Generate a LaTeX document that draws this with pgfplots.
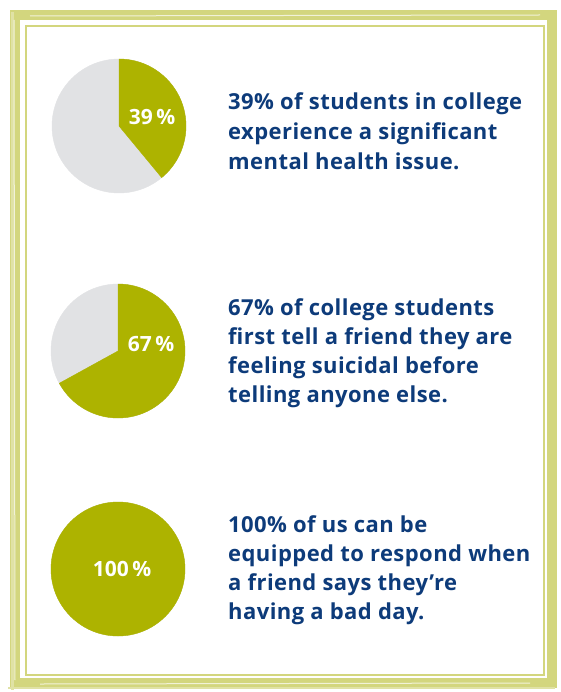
\documentclass[border=0pt]{standalone}
\usepackage{pgfplots}
\pgfplotsset{compat=1.18}
\usepackage{pgfplotstable}
\usepackage{fontspec}
\setmainfont{Open Sans}

\definecolor{piegreen}{HTML}{ADB300}
\definecolor{piegray}{HTML}{E1E2E4}
\definecolor{textblue}{HTML}{0D3B7A}
\definecolor{frame}{HTML}{D3D67E}

% pie centres in pixel coordinates, share in percent, label offset
\pgfplotstableread{
x   y    p    dx  dy
119 126  39   33  9
118 351  67   33  7
118 569  100  4   0
}\pies

\newcommand\blurb{\fontsize{22bp}{29bp}\selectfont\bfseries\addfontfeature{LetterSpace=2}}

\begin{document}
\begin{tikzpicture}
\useasboundingbox (0,0) rectangle (561bp,692bp);
\begin{axis}[
    at={(0,0)}, anchor=south west,
    width=561bp, height=692bp, scale only axis,
    xmin=0, xmax=561, ymin=0, ymax=692, y dir=reverse,
    hide axis, clip=false,
]
    % rough frame
    \draw[frame, line width=10bp] (axis cs:15,15) rectangle (axis cs:552,683);
    \draw[frame, line width=2.5bp] (axis cs:26,26) rectangle (axis cs:544,675);
    \draw[frame!70, line width=3bp] (axis cs:12,12) -- (axis cs:12,690);
    \draw[frame!70, line width=2bp] (axis cs:8,688) -- (axis cs:555,688);
    \draw[white, line width=1bp, opacity=0.7] (axis cs:14,20) -- (axis cs:15,680);
    \draw[white, line width=1bp, opacity=0.7] (axis cs:30,16) -- (axis cs:540,15);
    \draw[white, line width=1bp, opacity=0.7] (axis cs:40,684) -- (axis cs:530,683);

    % pies
    \addplot[scatter, only marks, mark=*, mark size=0pt,
        visualization depends on={\thisrow{p} \as \pct},
        visualization depends on={\thisrow{dx} \as \dx},
        visualization depends on={\thisrow{dy} \as \dy},
        scatter/@pre marker code/.code={%
            \begin{scope}
            \fill[piegray] (0,0) circle[radius=67bp];
            \pgfmathsetmacro\ang{3.6*\pct}
            \fill[piegreen] (0,0) -- (0,67bp)
                arc[start angle=90, delta angle=-\ang, radius=67bp] -- cycle;
            \node[text=white, font=\fontsize{21bp}{24bp}\selectfont\bfseries]
                at (\dx bp,\dy bp)
                {\pgfmathprintnumber[assume math mode=true]{\pct}\,\%};
            \pgfsetstrokeopacity{0}\pgfsetfillopacity{0}%
        },
        scatter/@post marker code/.code={\end{scope}},
    ] table[x=x, y=y] {\pies};

    % text
    \begin{scope}[every node/.style={anchor=base west, text=textblue, font=\blurb, inner sep=0pt}]
    \node at (axis cs:228,110) {39\% of students in college};
    \node at (axis cs:228,140) {experience a significant};
    \node at (axis cs:228,169) {mental health issue.};
    \node at (axis cs:228,315) {67\% of college students};
    \node at (axis cs:228,344) {first tell a friend they are};
    \node at (axis cs:228,373) {feeling suicidal before};
    \node at (axis cs:228,402) {telling anyone else.};
    \node at (axis cs:228,532) {100\% of us can be};
    \node at (axis cs:228,561) {equipped to respond when};
    \node at (axis cs:228,590) {a friend says they’re};
    \node at (axis cs:228,619) {having a bad day.};
    \end{scope}
\end{axis}
\end{tikzpicture}
\end{document}
